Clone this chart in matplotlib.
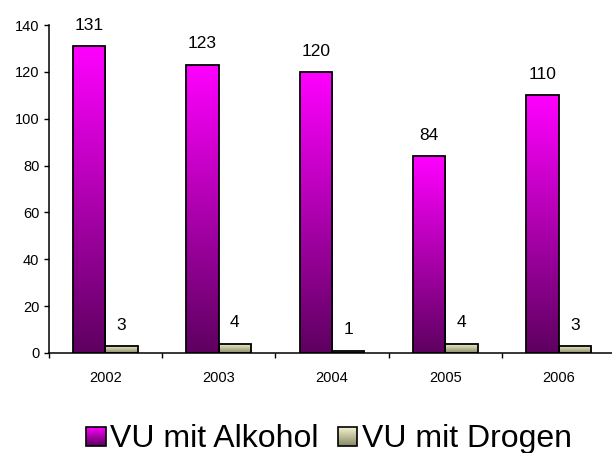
import numpy as np
import matplotlib
matplotlib.use("Agg")
import matplotlib.pyplot as plt
from matplotlib.colors import LinearSegmentedColormap
from matplotlib.patches import Rectangle
from matplotlib.legend_handler import HandlerBase

# --- data ---
years = ["2002", "2003", "2004", "2005", "2006"]
alkohol = [131, 123, 120, 84, 110]
drogen = [3, 4, 1, 4, 3]
series_names = ["VU mit Alkohol", "VU mit Drogen"]

plt.rcParams['font.family'] = ['Liberation Sans', 'DejaVu Sans']

cmap_alk = LinearSegmentedColormap.from_list("alk", ["#5e0060", "#ff00ff"])
cmap_drg = LinearSegmentedColormap.from_list("drg", ["#8a8a68", "#f6f6d2"])


class GradientHandler(HandlerBase):
    def __init__(self, cmap, steps=20):
        super().__init__()
        self.cmap = cmap
        self.steps = steps

    def create_artists(self, legend, orig_handle, xdescent, ydescent,
                       width, height, fontsize, trans):
        side = min(width, height)
        x0 = -xdescent + (width - side) / 2
        y0 = -ydescent + (height - side) / 2
        arts = []
        step = side / self.steps
        for k in range(self.steps):
            r = Rectangle((x0, y0 + k * step), side, step * 1.05,
                          facecolor=self.cmap(k / (self.steps - 1)),
                          edgecolor='none', transform=trans)
            arts.append(r)
        arts.append(Rectangle((x0, y0), side, side, facecolor='none',
                              edgecolor='black', linewidth=1.2, transform=trans))
        return arts


def gradient_bars(ax, xs, vals, width, cmap):
    bars = ax.bar(xs, vals, width=width, facecolor='none', edgecolor='black',
                  linewidth=1.3, zorder=3)
    grad = np.linspace(0, 1, 256).reshape(-1, 1)
    for b in bars:
        x, y = b.get_x(), b.get_y()
        w, h = b.get_width(), b.get_height()
        im = ax.imshow(grad, cmap=cmap, origin='lower', aspect='auto',
                       extent=[x, x + w, y, y + h], zorder=2)
        im.set_clip_path(b)
    return bars


fig = plt.figure(figsize=(6.12, 4.53), dpi=100)
ax = fig.add_axes([0.0795, 0.2208, 0.926, 0.724])

x = np.arange(len(years))
bw = 0.285
bars_a = gradient_bars(ax, x - bw / 2, alkohol, bw, cmap_alk)
bars_d = gradient_bars(ax, x + bw / 2, drogen, bw, cmap_drg)

for bars, vals in ((bars_a, alkohol), (bars_d, drogen)):
    for b, v in zip(bars, vals):
        ax.annotate(str(v), (b.get_x() + b.get_width() / 2, v),
                    xytext=(0, 15), textcoords='offset points',
                    ha='center', va='center', fontsize=12.5)

ax.set_xlim(-0.5, len(years) - 0.5)
ax.set_ylim(0, 140)
ax.set_yticks(range(0, 141, 20))
ax.tick_params(axis='y', direction='out', length=3.6, width=1, labelsize=10.5, pad=3)

ax.set_xticks(np.arange(-0.5, len(years), 1.0))
ax.set_xticklabels([])
ax.set_xticks(x, minor=True)
ax.set_xticklabels(years, minor=True)
ax.tick_params(axis='x', which='major', direction='out', length=3.6, width=1)
ax.tick_params(axis='x', which='minor', length=0, labelsize=10.5, pad=13)

for s in ('top', 'right'):
    ax.spines[s].set_visible(False)
for s in ('left', 'bottom'):
    ax.spines[s].set_linewidth(1.1)

h1 = Rectangle((0, 0), 1, 1)
h2 = Rectangle((0, 0), 1, 1)
fig.legend([h1, h2], series_names, loc='center', bbox_to_anchor=(0.538, 0.03),
           ncol=2, frameon=False, fontsize=23,
           handler_map={h1: GradientHandler(cmap_alk), h2: GradientHandler(cmap_drg)},
           handlelength=0.6, handleheight=0.6, handletextpad=0.15,
           columnspacing=0.6, borderpad=0)

fig.savefig("out.png", dpi=100)
